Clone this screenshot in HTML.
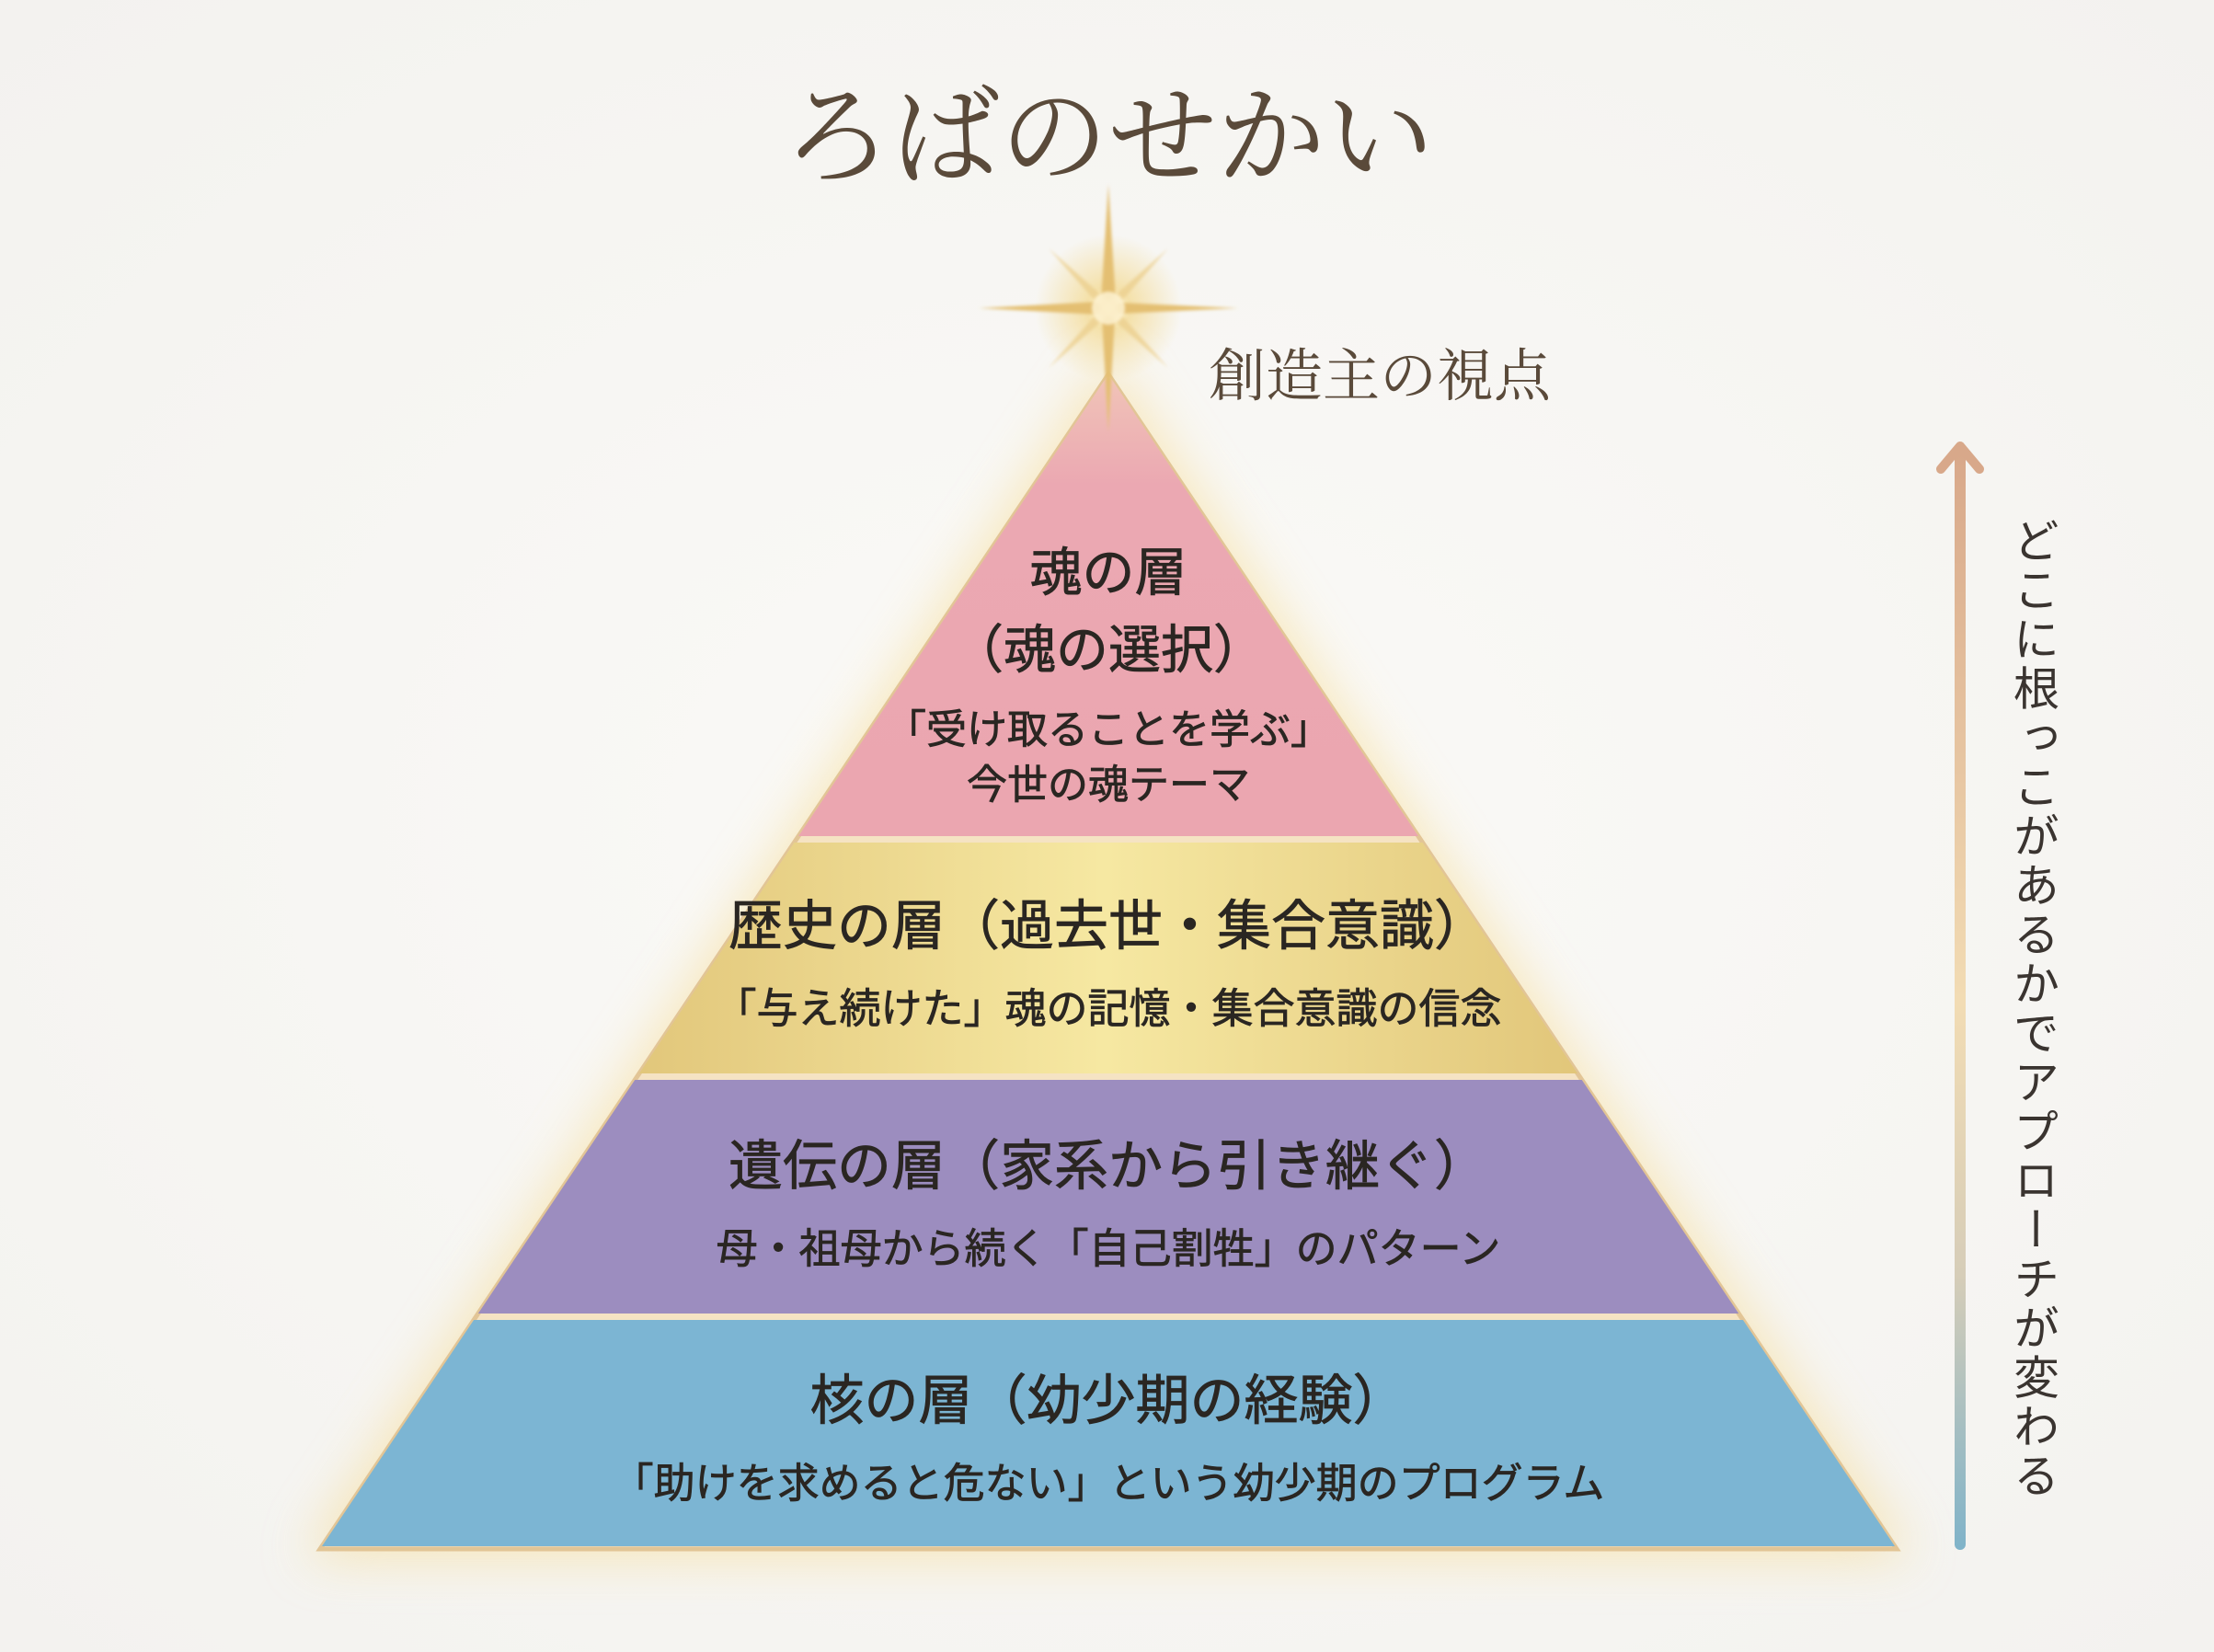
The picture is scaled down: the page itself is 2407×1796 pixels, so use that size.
<!DOCTYPE html>
<html><head><meta charset="utf-8"><style>
html,body{margin:0;padding:0;background:#f7f6f3;}
svg{display:block}
</style></head><body>
<svg width="2407" height="1796" viewBox="0 0 2407 1796" xmlns="http://www.w3.org/2000/svg">
<defs>
<radialGradient id="bg" cx="0.5" cy="0.5" r="0.7"><stop offset="0" stop-color="#fbfaf7"/><stop offset="1" stop-color="#f3f2ef"/></radialGradient>
<linearGradient id="gold" x1="0" x2="1" y1="0" y2="0">
<stop offset="0" stop-color="#d2ad5c"/><stop offset="0.5" stop-color="#f6e8a2"/><stop offset="1" stop-color="#d2ad5c"/></linearGradient>
<linearGradient id="pink" x1="0" x2="0" y1="0" y2="1">
<stop offset="0" stop-color="#f1c6b8"/><stop offset="0.25" stop-color="#eba8b2"/><stop offset="1" stop-color="#eba6b0"/></linearGradient>
<linearGradient id="arr" x1="0" x2="0" y1="0" y2="1">
<stop offset="0" stop-color="#d8a88a"/><stop offset="0.5" stop-color="#f2dcb4"/><stop offset="0.75" stop-color="#d6cdb8"/><stop offset="1" stop-color="#7fb3c9"/></linearGradient>
<radialGradient id="starg"><stop offset="0" stop-color="#fff8d8"/><stop offset="0.3" stop-color="#f4dc98" stop-opacity="0.8"/><stop offset="1" stop-color="#f4dc98" stop-opacity="0"/></radialGradient>
<filter id="glow" x="-20%" y="-20%" width="140%" height="140%"><feGaussianBlur stdDeviation="28"/></filter>
<filter id="sb"><feGaussianBlur stdDeviation="1.5"/></filter>
<clipPath id="tri"><polygon points="1205,407 348,1684 2062,1684"/></clipPath>
</defs>
<rect width="2407" height="1796" fill="url(#bg)"/>
<polygon points="1205,390 330,1694 2080,1694" fill="#f6d98a" opacity="0.55" filter="url(#glow)"/>
<polygon points="1205,407 348,1684 2062,1684" fill="#f5e3c3" stroke="#e2c596" stroke-width="5"/>
<g clip-path="url(#tri)">
<rect x="300" y="400" width="1800" height="509" fill="url(#pink)"/>
<rect x="300" y="916" width="1800" height="251" fill="url(#gold)"/>
<rect x="300" y="1174" width="1800" height="254" fill="#9c8dbf"/>
<rect x="300" y="1435" width="1800" height="246" fill="#7cb5d3"/>
</g>
<!-- star -->
<circle cx="1205" cy="335" r="80" fill="url(#starg)"/>
<g filter="url(#sb)">
<polygon points="1205,200 1213,327 1205,470 1197,327" fill="#e4bf72"/>
<polygon points="1064,335 1195,328 1346,335 1195,342" fill="#e4bf72"/>
<polygon points="1140,270 1208,330 1270,400 1202,340" fill="#ecd08e" opacity="0.8"/>
<polygon points="1270,270 1208,340 1140,400 1202,330" fill="#ecd08e" opacity="0.8"/>
</g>
<circle cx="1205" cy="335" r="18" fill="#fff6d8" opacity="0.8" filter="url(#sb)"/>
<text x="1205" y="190" font-family="'Liberation Serif','Noto Serif CJK SC',serif" font-size="118" fill="#5a4a3a" text-anchor="middle">ろばのせかい</text>
<text x="1500" y="430" font-family="'Liberation Serif','Noto Serif CJK SC',serif" font-size="62" fill="#5a4a3a" text-anchor="middle">創造主の視点</text>
<g font-family="'Liberation Sans','Noto Sans CJK JP',sans-serif" fill="#2a2622" text-anchor="middle" stroke="#2a2622" stroke-width="0.8">
<text x="1205" y="642" font-size="57">魂の層</text>
<text x="1205" y="726" font-size="57">（魂の選択）</text>
<text x="1205" y="808" font-size="44">「受け取ることを学ぶ」</text>
<text x="1205" y="868" font-size="44">今世の魂テーマ</text>
<text x="1205" y="1027" font-size="59">歴史の層（過去世・集合意識）</text>
<text x="1205" y="1112" font-size="45">「与え続けた」魂の記憶・集合意識の信念</text>
<text x="1205" y="1288" font-size="59">遺伝の層（家系から引き継ぐ）</text>
<text x="1205" y="1373" font-size="45">母・祖母から続く「自己割牲」のパターン</text>
<text x="1205" y="1543" font-size="59">核の層（幼少期の経験）</text>
<text x="1205" y="1628" font-size="45">「助けを求めると危ない」という幼少期のプログラム</text>
</g>
<!-- arrow -->
<rect x="2125" y="490" width="12" height="1195" rx="6" fill="url(#arr)"/>
<polyline points="2110,510 2131,485 2152,510" fill="none" stroke="#d8a88a" stroke-width="10" stroke-linecap="round" stroke-linejoin="round"/>
<text x="2210" y="562" font-family="'Liberation Sans','Noto Sans CJK JP',sans-serif" font-size="50" fill="#3a3430" style="writing-mode:vertical-rl" letter-spacing="3.5">どこに根っこがあるかでアプローチが変わる</text>
</svg>
</body></html>
